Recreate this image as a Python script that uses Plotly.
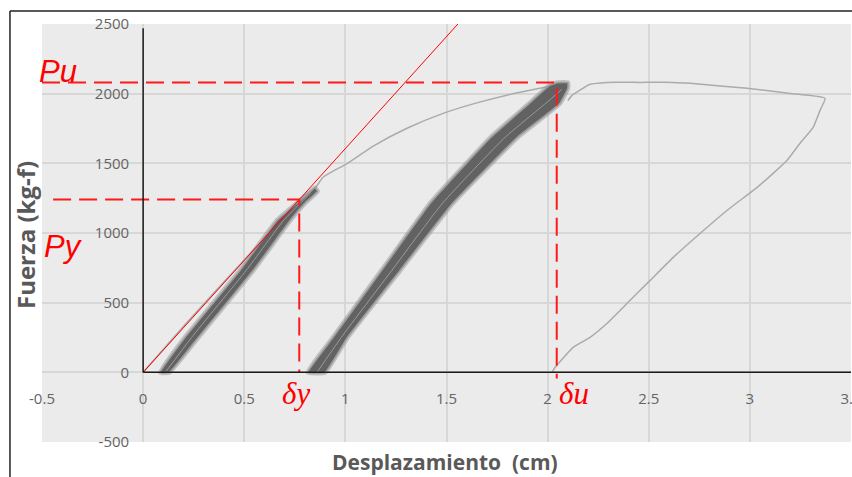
import plotly.graph_objects as go

# ---------------- data ----------------
# axis ticks
x_ticks = [-0.5, 0, 0.5, 1, 1.5, 2, 2.5, 3, 3.5]
x_tick_text = ["-0.5", "0", "0.5", "1", "1.5", "2", "2.5", "3", "3.5"]
y_ticks = [-500, 0, 500, 1000, 1500, 2000, 2500]
y_tick_text = ["-500", "0", "500", "1000", "1500", "2000", "2500"]

# characteristic values
Py = 1240      # yield force (kg-f)
Pu = 2080      # ultimate force (kg-f)
dy = 0.772     # yield displacement (cm)
du = 2.045     # displacement at ultimate (cm)

# first loading + envelope up to the second group of cycles
env_x = [0.0, 0.20, 0.40, 0.60, 0.78, 0.85, 0.89, 1.01, 1.14, 1.31, 1.49, 1.65, 1.85, 2.03, 2.10]
env_y = [0, 330, 650, 965, 1250, 1322, 1400, 1500, 1626, 1755, 1862, 1934, 2006, 2058, 2078]

# post-peak branch and final unloading
post_x = [2.10, 2.121, 2.21, 2.294, 2.457, 2.621, 2.705, 2.868, 2.986, 3.199, 3.372,
          3.347, 3.313, 3.248, 3.184, 3.115, 3.036, 2.888, 2.755, 2.621, 2.507, 2.408,
          2.294, 2.21, 2.126, 2.037, 2.022]
post_y = [1950, 1988, 2067, 2081, 2081, 2081, 2074, 2053, 2038, 2002, 1967,
          1880, 1758, 1644, 1522, 1428, 1328, 1163, 998, 825, 660, 517,
          352, 251, 179, 36, 0]

# cycles group 1 (band outline: loading edge then unloading edge)
c1_x = [0.085, 0.208, 0.480, 0.663, 0.80, 0.85, 0.862, 0.80, 0.727, 0.544, 0.272, 0.13, 0.085]
c1_y = [0, 251, 732, 1091, 1260, 1325, 1300, 1215, 1091, 732, 251, 0, 0]
c1_mid_x = [0.11, 0.24, 0.51, 0.695, 0.83]
c1_mid_y = [0, 251, 732, 1091, 1290]

# cycles group 2
c2_x = [0.815, 0.94, 1.18, 1.42, 1.72, 1.91, 2.01, 2.05, 2.10, 2.10, 2.06, 1.85, 1.53, 1.27, 1.01, 0.90, 0.815]
c2_y = [0, 251, 732, 1213, 1687, 1930, 2060, 2078, 2078, 2040, 1930, 1687, 1213, 732, 251, 0, 0]
c2_mid_x = [0.86, 0.98, 1.23, 1.48, 1.79, 1.99, 2.07]
c2_mid_y = [0, 251, 732, 1213, 1687, 1930, 2030]

# ---------------- figure ----------------
fig = go.Figure()

GRAY_LIGHT = "#ababab"

fig.add_trace(go.Scatter(x=env_x, y=env_y, mode="lines",
                         line=dict(color=GRAY_LIGHT, width=1.5, shape="spline", smoothing=0.6),
                         hoverinfo="skip"))
fig.add_trace(go.Scatter(x=post_x, y=post_y, mode="lines",
                         line=dict(color=GRAY_LIGHT, width=1.5, shape="spline", smoothing=0.4),
                         hoverinfo="skip"))

for cx, cy, mx, my in [(c1_x, c1_y, c1_mid_x, c1_mid_y), (c2_x, c2_y, c2_mid_x, c2_mid_y)]:
    # soft halo around the band of cycles
    fig.add_trace(go.Scatter(x=cx, y=cy, mode="lines",
                             line=dict(color="rgba(140,140,140,0.45)", width=5,
                                       shape="spline", smoothing=0.3),
                             hoverinfo="skip"))
    fig.add_trace(go.Scatter(x=cx, y=cy, mode="lines", fill="toself",
                             fillcolor="#626262",
                             line=dict(color="#9a9a9a", width=1.5, shape="spline", smoothing=0.3),
                             hoverinfo="skip"))
    fig.add_trace(go.Scatter(x=mx, y=my, mode="lines",
                             line=dict(color="#9a9a9a", width=1, shape="spline", smoothing=0.5),
                             hoverinfo="skip"))

# red construction lines
k = Py / dy
fig.add_trace(go.Scatter(x=[0, 2600 / k], y=[0, 2600], mode="lines",
                         line=dict(color="#ff0000", width=1), hoverinfo="skip"))
dash = "18px,8px"
fig.add_trace(go.Scatter(x=[-0.445, dy, dy], y=[Py, Py, 0], mode="lines",
                         line=dict(color="#ff1a1a", width=2, dash=dash), hoverinfo="skip"))
fig.add_trace(go.Scatter(x=[-0.5, du, du], y=[Pu, Pu, -45], mode="lines",
                         line=dict(color="#ff1a1a", width=2, dash=dash), hoverinfo="skip"))

tick_font = dict(family="Open Sans, sans-serif", size=15, color="#646464")

fig.update_layout(
    width=852, height=477,
    margin=dict(l=42, r=1, t=24, b=35, autoexpand=False),
    paper_bgcolor="white",
    plot_bgcolor="#ebebeb",
    showlegend=False,
    xaxis=dict(range=[-0.5, 3.5], tickvals=x_ticks, ticktext=x_tick_text,
               showgrid=True, gridcolor="#d7d7d7", gridwidth=1.5,
               zeroline=False, showline=False, automargin=False,
               anchor="free", position=1/6,
               ticks="outside", ticklen=13, tickcolor="rgba(0,0,0,0)",
               tickfont=tick_font, ticklabeloverflow="allow"),
    yaxis=dict(range=[-500, 2500], tickvals=y_ticks, ticktext=y_tick_text,
               showgrid=True, gridcolor="#d7d7d7", gridwidth=1.5,
               zeroline=False, showline=False, automargin=False,
               anchor="free", position=0.125,
               ticks="outside", ticklen=11, tickcolor="rgba(0,0,0,0)",
               tickfont=tick_font, ticklabeloverflow="allow"),
)

# axis lines through the origin
fig.add_shape(type="line", xref="x", yref="y", x0=0, x1=0, y0=0, y1=2470,
              line=dict(color="#1a1a1a", width=1.5))
fig.add_shape(type="line", xref="x", yref="y", x0=0, x1=3.5, y0=0, y1=0,
              line=dict(color="#1a1a1a", width=1.5))

# outer frame (top and left)
fig.add_shape(type="line", xref="paper", yref="paper", x0=-0.0396, x1=1.002, y0=1.031, y1=1.031,
              line=dict(color="#222222", width=1.5))
fig.add_shape(type="line", xref="paper", yref="paper", x0=-0.0396, x1=-0.0396, y0=1.031, y1=-0.09,
              line=dict(color="#222222", width=1.5))

red_label = dict(family="Liberation Sans, Arial, sans-serif", size=31, color="#ff0000")
greek_label = dict(family="Liberation Serif, Times New Roman, serif", size=31, color="#ff0000")

fig.add_annotation(x=-0.42, y=2160, xref="x", yref="y", text="<i>Pu</i>", showarrow=False,
                   font=red_label, xanchor="center", yanchor="middle")
fig.add_annotation(x=-0.395, y=905, xref="x", yref="y", text="<i>Py</i>", showarrow=False,
                   font=red_label, xanchor="center", yanchor="middle")
fig.add_annotation(x=0.757, y=-150, xref="x", yref="y", text="<i>δy</i>", showarrow=False,
                   font=greek_label, xanchor="center", yanchor="middle")
fig.add_annotation(x=2.13, y=-150, xref="x", yref="y", text="<i>δu</i>", showarrow=False,
                   font=greek_label, xanchor="center", yanchor="middle")

fig.add_annotation(x=(445 - 42) / 809, y=(442 - 462) / 418, xref="paper", yref="paper",
                   text="<b>Desplazamiento  (cm)</b>", showarrow=False,
                   font=dict(family="Open Sans, sans-serif", size=21, color="#595959"),
                   xanchor="center", yanchor="middle")
fig.add_annotation(x=(25 - 42) / 809, y=(442 - 235) / 418, xref="paper", yref="paper",
                   text="<b>Fuerza (kg-f)</b>", showarrow=False,
                   font=dict(family="Open Sans, sans-serif", size=24, color="#595959"),
                   textangle=-90, xanchor="center", yanchor="middle")

fig.write_html("out.html")
